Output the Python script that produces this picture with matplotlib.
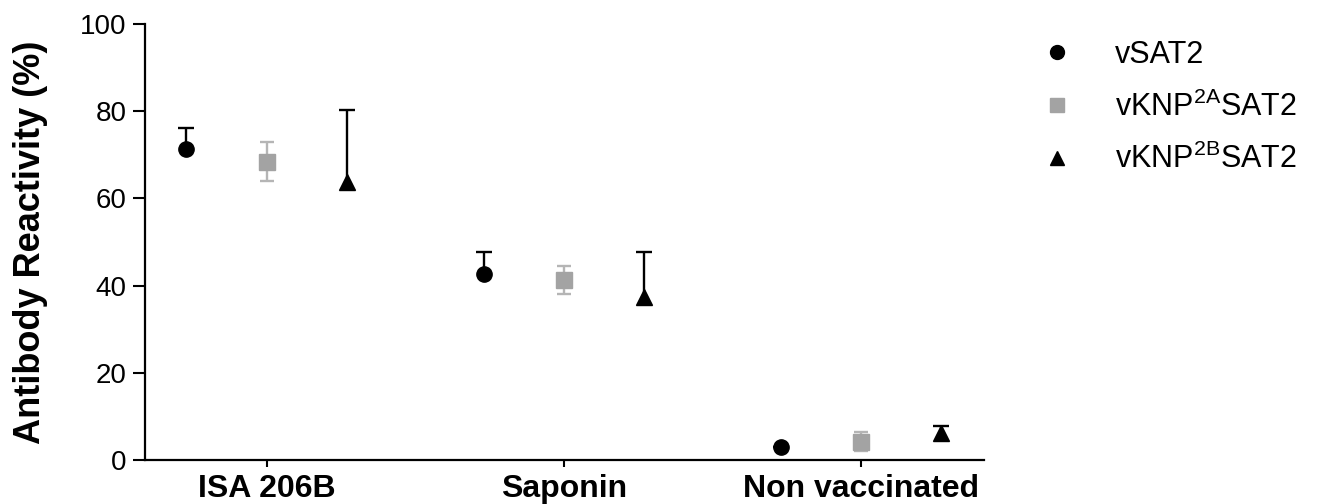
import numpy as np
import matplotlib.pyplot as plt
import matplotlib
from matplotlib.lines import Line2D

matplotlib.rcParams['font.family'] = ['Liberation Sans', 'DejaVu Sans']
matplotlib.rcParams['mathtext.default'] = 'regular'

# data
groups = ['ISA 206B', 'Saponin', 'Non vaccinated']
series = ['vSAT2', r'vKNP$^{2A}$SAT2', r'vKNP$^{2B}$SAT2']
vsat2 = [71.4, 42.7, 3.0]
vsat2_up = [4.7, 5.0, 0.0]
vknp2a = [68.4, 41.3, 4.2]
vknp2a_err = [4.5, 3.3, 2.2]
vknp2b = [63.8, 37.3, 6.3]
vknp2b_up = [16.5, 10.4, 1.5]

x = np.arange(len(groups))
off = 0.27
grey = '#a3a3a3'

fig = plt.figure(figsize=(13.17, 5.04), dpi=100, facecolor='white')
ax = fig.add_axes([0.110, 0.0873, 0.637, 0.865])


def upper_bar(xs, ys, up, color):
    # only the upper half of the error bar is drawn (mean + SD)
    top = np.add(ys, up)
    ax.vlines(xs, ys, top, color=color, lw=1.7, zorder=2)
    ax.plot(xs, top, ls='none', marker='_', ms=11, mew=1.7, color=color, zorder=2)


upper_bar(x - off, vsat2, vsat2_up, 'black')
ax.plot(x - off, vsat2, 'o', color='black', ms=11, zorder=3)

ax.errorbar(x, vknp2a, yerr=vknp2a_err, fmt='s', color=grey, ecolor='#b5b5b5',
            ms=11, elinewidth=1.7, capsize=5.2, capthick=1.7, zorder=3)

upper_bar(x + off, vknp2b, vknp2b_up, 'black')
ax.plot(x + off, vknp2b, '^', color='black', ms=11, zorder=3)

ax.set_xlim(-0.41, 2.414)
ax.set_ylim(0, 100)
ax.set_yticks([0, 20, 40, 60, 80, 100])
ax.set_xticks(x)
ax.set_xticklabels(groups, fontsize=23, fontweight='bold')
ax.tick_params(axis='y', labelsize=20, length=9, width=1.5, direction='out', pad=4)
ax.tick_params(axis='x', length=5, width=1.5, pad=5)
for s in ['top', 'right']:
    ax.spines[s].set_visible(False)
for s in ['left', 'bottom']:
    ax.spines[s].set_linewidth(1.6)

ax.set_ylabel('Antibody Reactivity (%)', fontsize=26, fontweight='bold')
ax.yaxis.set_label_coords(-0.116, 0.5)

handles = [
    Line2D([], [], ls='none', marker='o', color='black', ms=10),
    Line2D([], [], ls='none', marker='s', color=grey, ms=10),
    Line2D([], [], ls='none', marker='^', color='black', ms=10),
]
legend = fig.legend(handles, series, loc='upper left', bbox_to_anchor=(0.770, 0.975),
                    frameon=False, fontsize=22, handlelength=1.0, handletextpad=1.4,
                    labelspacing=0.7)

plt.savefig('out.png', dpi=100)
